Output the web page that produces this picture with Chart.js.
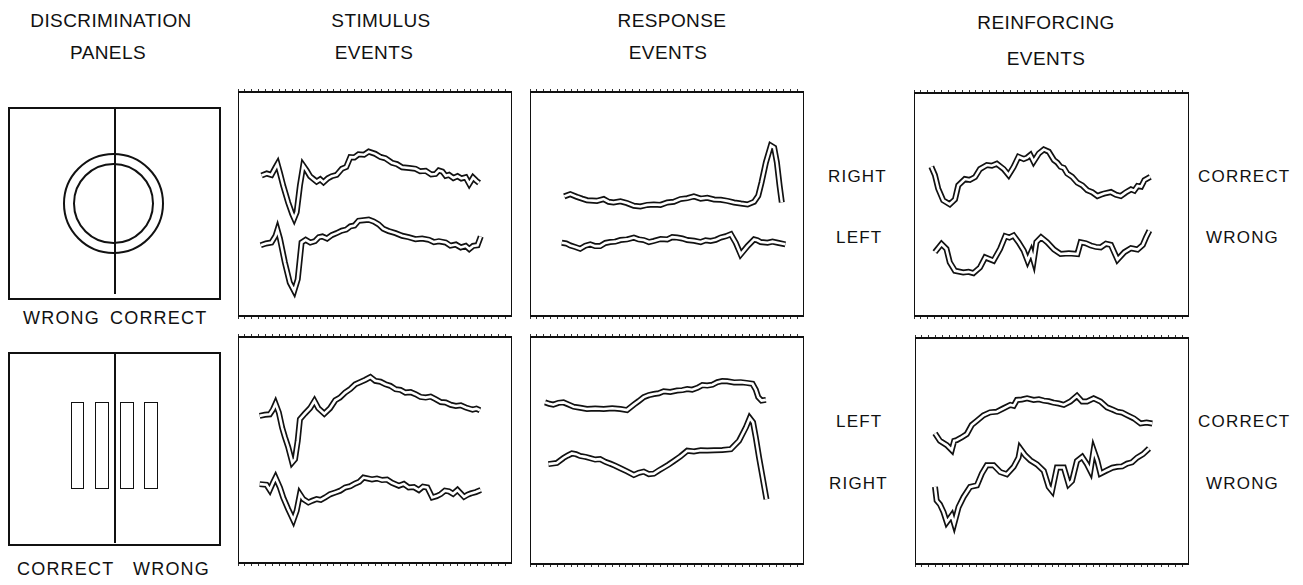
<!DOCTYPE html>
<html>
<head>
<meta charset="utf-8">
<script src="https://cdn.jsdelivr.net/npm/chart.js@4.4.0/dist/chart.umd.min.js"></script>
<style>
  body { margin: 0; width: 1303px; height: 585px; background: #fff; position: relative; overflow: hidden;
         font-family: "Liberation Sans", Arial, sans-serif; color: #111; }
  .hd { position: absolute; font-size: 19px; letter-spacing: 0.4px; white-space: nowrap; transform: translate(-50%, -50%); }
  .lb { position: absolute; font-size: 17px; letter-spacing: 1.2px; white-space: nowrap; transform: translateY(-50%); }
  .pl { position: absolute; font-size: 18px; letter-spacing: 1.2px; white-space: nowrap; transform: translateY(-50%); }
  .box { position: absolute; }
  .panel { position: absolute; border: 2px solid #111; box-sizing: border-box; }
  .ring { position: absolute; border: 2px solid #111; border-radius: 50%; box-sizing: border-box; }
  .bar { position: absolute; border: 1.5px solid #111; box-sizing: border-box; }
  .vline { position: absolute; width: 1.5px; background: #111; }
</style>
</head>
<body>

<!-- headings -->
<div class="hd" style="left:111px;top:21px">DISCRIMINATION</div>
<div class="hd" style="left:108px;top:53px">PANELS</div>
<div class="hd" style="left:381px;top:21px">STIMULUS</div>
<div class="hd" style="left:374px;top:53px">EVENTS</div>
<div class="hd" style="left:672px;top:21px">RESPONSE</div>
<div class="hd" style="left:668px;top:53px">EVENTS</div>
<div class="hd" style="left:1046px;top:23px">REINFORCING</div>
<div class="hd" style="left:1046px;top:59px">EVENTS</div>

<!-- discrimination panels -->
<div class="panel" style="left:8px;top:107px;width:213px;height:193px"></div>
<div class="ring" style="left:63px;top:153px;width:101px;height:101px"></div>
<div class="ring" style="left:73px;top:163px;width:81px;height:81px"></div>
<div class="vline" style="left:114px;top:108px;height:186px"></div>
<div class="pl" style="left:23px;top:318px">WRONG</div>
<div class="pl" style="left:110px;top:318px">CORRECT</div>

<div class="panel" style="left:8px;top:352px;width:213px;height:194px"></div>
<div class="bar" style="left:71px;top:402px;width:13px;height:87px"></div>
<div class="bar" style="left:95px;top:402px;width:14px;height:87px"></div>
<div class="bar" style="left:120px;top:402px;width:14px;height:87px"></div>
<div class="bar" style="left:144px;top:402px;width:14px;height:87px"></div>
<div class="vline" style="left:114px;top:353px;height:190px"></div>
<div class="pl" style="left:17px;top:569px">CORRECT</div>
<div class="pl" style="left:133px;top:569px">WRONG</div>

<!-- side labels -->
<div class="lb" style="left:828px;top:177px">RIGHT</div>
<div class="lb" style="left:836px;top:238px">LEFT</div>
<div class="lb" style="left:1198px;top:177px">CORRECT</div>
<div class="lb" style="left:1206px;top:238px">WRONG</div>
<div class="lb" style="left:836px;top:422px">LEFT</div>
<div class="lb" style="left:829px;top:484px">RIGHT</div>
<div class="lb" style="left:1198px;top:422px">CORRECT</div>
<div class="lb" style="left:1206px;top:484px">WRONG</div>

<div class="box" id="stimTop"><canvas></canvas></div>
<div class="box" id="stimBot"><canvas></canvas></div>
<div class="box" id="respTop"><canvas></canvas></div>
<div class="box" id="respBot"><canvas></canvas></div>
<div class="box" id="reinTop"><canvas></canvas></div>
<div class="box" id="reinBot"><canvas></canvas></div>

<script>
// averaged evoked potentials, [sweep %, amplitude %]
const stimTopUpper = [[8.6,62.7],[10.5,63.6],[12.2,63.0],[13.7,66.4],[14.4,67.9],[15.3,63.9],[16.5,58.2],[18.3,50.7],[19.8,45.5],[20.5,43.6],[21.4,46.3],[22.6,58.2],[23.8,67.2],[25.1,64.9],[26.3,62.4],[27.5,61.2],[28.7,60.0],[30.0,61.0],[31.2,59.7],[32.8,61.5],[34.2,62.4],[36.0,63.0],[37.9,65.7],[39.5,66.5],[41.0,70.9],[42.5,70.8],[44.0,72.2],[46.0,72.0],[47.7,73.4],[50.1,72.4],[52.0,71.0],[53.8,70.4],[56.2,68.4],[58.0,67.8],[59.9,66.4],[62.5,66.1],[64.8,65.7],[66.5,64.6],[68.5,64.8],[70.5,63.2],[72.1,63.4],[73.3,65.0],[74.6,64.5],[75.8,62.6],[77.0,63.0],[78.6,61.6],[80.1,62.4],[81.5,61.4],[83.1,61.9],[84.4,59.0],[85.8,61.8],[87.0,60.4],[88.0,59.4]];
const stimTopLower = [[8.3,31.6],[10.2,32.4],[12.2,32.8],[13.7,35.8],[14.4,38.5],[15.3,34.6],[17.1,23.9],[18.9,14.9],[20.5,11.2],[21.8,16.4],[23.2,32.8],[24.7,34.0],[26.4,32.8],[28.1,33.4],[29.5,35.2],[30.8,35.5],[32.5,34.6],[34.2,36.1],[36.0,37.0],[37.9,38.1],[39.5,38.6],[41.0,40.0],[42.5,40.4],[44.0,42.5],[47.7,43.0],[49.5,42.2],[51.3,40.9],[53.0,39.0],[55.0,37.9],[57.5,37.0],[59.9,35.8],[62.3,35.2],[64.8,34.3],[67.2,34.6],[69.7,34.0],[71.5,33.0],[73.3,33.4],[75.8,32.8],[77.5,31.4],[79.5,31.9],[81.3,30.6],[83.1,31.3],[84.4,29.9],[85.8,31.3],[87.4,31.6],[88.6,35.5]];

const stimBotUpper = [[7.9,65.1],[9.8,65.6],[11.6,65.8],[12.8,68.0],[13.7,70.5],[14.9,66.6],[16.1,59.9],[17.1,55.8],[18.3,51.4],[19.8,44.5],[20.8,45.9],[21.8,54.1],[22.6,63.6],[24.4,66.1],[26.3,68.5],[27.9,71.7],[29.3,68.5],[31.5,66.1],[33.6,68.5],[35.5,72.0],[37.2,73.2],[39.1,75.4],[41.0,77.0],[42.8,79.1],[44.5,80.0],[46.5,81.1],[48.3,82.3],[50.1,80.6],[52.0,80.2],[53.8,79.1],[55.6,78.4],[57.5,76.9],[59.3,76.6],[61.1,75.4],[63.0,75.6],[64.8,74.7],[66.6,73.5],[68.5,73.2],[70.3,73.6],[72.1,72.5],[74.0,71.2],[75.8,71.0],[77.6,70.0],[79.5,69.5],[81.3,69.8],[83.1,68.8],[85.6,67.9],[87.0,68.3],[88.3,67.6]];
const stimBotLower = [[7.9,34.9],[10.4,34.6],[11.6,32.3],[12.8,35.6],[13.7,37.8],[15.3,33.4],[16.5,29.0],[18.3,23.9],[20.2,19.0],[21.4,23.1],[22.6,30.5],[23.8,28.3],[25.7,26.8],[27.2,27.6],[28.7,28.3],[30.2,27.9],[31.8,29.0],[33.6,30.4],[35.5,31.2],[37.3,32.0],[39.1,33.4],[41.0,34.0],[42.8,35.2],[44.3,36.0],[45.8,37.8],[48.9,37.0],[50.7,37.4],[52.6,36.7],[54.4,36.9],[56.2,35.5],[58.7,34.2],[60.5,35.0],[62.3,33.4],[64.2,33.6],[66.0,32.3],[67.5,33.8],[69.1,33.4],[70.9,29.0],[72.5,29.6],[74.0,30.5],[75.5,32.0],[77.0,31.7],[78.5,30.6],[80.1,32.3],[82.5,29.3],[83.8,30.2],[85.0,30.8],[86.8,31.4],[88.6,32.3]];

const respTopRight = [[12.5,53.4],[14.7,54.4],[17.1,53.2],[19.0,52.4],[20.8,51.7],[24.4,51.4],[26.9,52.2],[28.7,51.0],[30.5,50.7],[33.0,51.2],[35.4,50.4],[37.9,49.2],[40.3,48.9],[42.8,49.6],[45.2,49.8],[47.6,49.6],[50.1,50.7],[52.5,51.0],[54.9,52.2],[57.4,52.6],[59.8,53.4],[62.3,52.4],[64.7,52.8],[67.2,52.0],[69.6,51.9],[72.0,51.4],[74.5,50.7],[77.0,50.2],[79.4,49.8],[81.8,51.0],[83.3,53.7],[84.5,59.6],[86.1,68.6],[87.9,76.1],[89.1,75.2],[90.1,68.6],[91.1,58.1],[91.9,50.7]];
const respTopLeft = [[11.6,32.7],[13.2,32.4],[14.7,31.5],[16.5,30.8],[18.3,30.0],[20.2,31.4],[22.0,32.0],[23.8,31.2],[25.6,31.2],[27.5,32.6],[29.3,33.0],[31.1,33.2],[33.0,33.9],[35.4,34.2],[37.9,35.0],[39.7,34.2],[41.5,33.9],[43.4,33.0],[45.2,33.5],[47.7,34.4],[50.1,34.2],[51.9,35.2],[53.7,35.0],[55.6,34.6],[57.4,33.9],[59.9,33.6],[62.3,33.0],[64.1,33.8],[65.9,33.5],[67.8,34.0],[69.6,35.0],[71.5,35.6],[73.3,36.5],[75.1,32.7],[76.9,27.5],[79.4,31.2],[81.8,34.2],[83.0,33.8],[84.2,33.0],[86.7,32.7],[88.5,33.2],[90.4,32.7],[93.2,32.0]];

const respBotLeft = [[5.5,71.2],[7.0,70.6],[8.5,70.2],[10.4,71.0],[12.2,71.2],[14.0,70.3],[15.9,69.3],[18.3,68.8],[20.8,68.3],[23.8,68.5],[26.9,68.3],[30.0,68.6],[33.0,68.3],[35.4,67.8],[37.9,70.2],[39.7,71.8],[41.5,73.5],[43.4,74.4],[45.2,74.9],[47.0,75.2],[48.8,76.1],[51.2,75.8],[53.7,76.4],[55.6,76.6],[57.4,77.1],[59.2,76.8],[61.1,77.6],[62.9,78.8],[64.7,78.6],[66.6,79.0],[68.4,80.1],[70.2,80.6],[72.0,80.5],[74.5,80.0],[76.9,80.1],[79.0,79.8],[81.2,79.4],[82.4,76.8],[83.3,73.5],[84.5,72.0],[86.1,72.3]];
const respBotRight = [[6.7,44.0],[9.8,44.5],[12.2,46.7],[13.8,47.8],[15.3,48.7],[16.8,48.4],[18.3,47.6],[20.2,47.2],[22.0,46.6],[23.8,46.0],[25.6,46.2],[27.5,45.0],[29.3,44.2],[31.1,43.3],[33.0,42.2],[35.4,40.8],[37.9,39.2],[39.7,40.2],[41.5,40.7],[43.4,39.6],[45.2,39.8],[47.0,41.2],[48.8,42.5],[50.6,43.8],[52.5,45.4],[54.9,47.4],[57.4,49.9],[59.8,49.6],[62.3,50.1],[64.7,50.0],[67.2,50.1],[70.2,50.2],[73.3,50.6],[76.3,54.3],[78.8,60.2],[80.2,64.3],[81.4,62.4],[82.4,55.8],[83.6,46.9],[84.9,38.1],[86.3,28.5]];

const reinTopCorrect = [[6.3,66.9],[7.6,63.2],[8.8,57.1],[10.6,51.9],[13.0,50.1],[14.9,52.3],[16.1,58.6],[18.5,61.4],[20.3,61.0],[22.2,62.3],[24.0,65.9],[26.5,67.7],[28.3,67.4],[30.1,68.3],[32.6,65.9],[34.4,63.2],[36.2,66.8],[38.0,71.4],[39.9,70.4],[41.1,71.0],[42.3,72.2],[43.5,69.2],[45.4,72.9],[47.2,74.7],[49.0,73.7],[50.9,69.9],[52.1,68.8],[53.3,66.9],[54.5,66.4],[55.7,63.9],[57.5,62.4],[59.4,59.8],[61.2,58.6],[63.0,56.4],[64.8,55.5],[66.7,53.8],[67.9,54.4],[69.1,54.9],[71.6,55.6],[73.4,54.4],[75.2,53.8],[77.0,55.4],[78.9,56.8],[80.1,56.2],[81.3,58.3],[82.6,58.0],[83.8,60.9],[85.9,62.4]];
const reinTopWrong = [[7.6,28.6],[10.0,32.3],[11.8,30.1],[13.0,24.1],[14.9,20.3],[17.9,19.5],[19.8,19.8],[21.6,19.2],[24.0,21.8],[25.9,26.3],[28.9,24.8],[31.3,30.1],[33.2,35.8],[34.7,35.2],[36.2,36.1],[38.0,33.1],[39.9,29.3],[41.3,24.8],[42.6,28.6],[43.5,24.8],[44.5,33.1],[46.2,35.3],[48.4,33.1],[50.9,29.8],[53.3,27.8],[56.3,28.1],[59.4,27.8],[60.6,33.1],[62.5,32.6],[64.3,31.6],[66.1,31.0],[67.9,30.8],[69.8,32.4],[71.6,31.9],[74.0,25.3],[76.5,28.6],[78.9,30.4],[81.3,29.8],[83.2,31.9],[84.4,35.3],[85.6,38.3]];

const reinBotCorrect = [[7.3,57.8],[9.1,54.5],[11.6,52.6],[13.4,50.4],[14.3,54.5],[15.2,54.8],[17.0,56.0],[18.9,57.5],[20.7,61.5],[22.6,63.4],[25.0,65.8],[27.4,67.1],[29.9,67.4],[32.3,68.9],[34.8,70.4],[36.0,70.0],[37.2,72.6],[39.0,72.8],[40.9,73.3],[43.3,72.6],[45.2,72.9],[47.0,72.3],[48.8,72.0],[50.6,71.4],[52.5,71.0],[54.3,70.4],[56.7,71.9],[59.1,74.4],[61.0,71.9],[62.8,71.9],[65.2,73.3],[67.7,71.9],[70.1,69.3],[72.0,68.4],[73.8,67.4],[75.6,67.0],[77.4,65.9],[79.9,64.4],[82.3,62.2],[84.5,62.6],[86.6,62.2]];
const reinBotWrong = [[7.3,34.1],[7.9,28.1],[9.1,26.4],[10.4,23.0],[11.6,18.5],[13.4,21.5],[14.3,17.8],[15.9,25.2],[17.7,29.6],[20.1,34.1],[22.6,34.8],[24.4,40.0],[26.2,43.7],[28.7,43.7],[31.1,40.7],[33.5,39.7],[36.0,43.0],[37.8,47.1],[38.4,51.1],[40.2,48.1],[42.1,45.9],[44.5,44.1],[47.0,41.2],[48.8,34.1],[50.0,32.3],[51.8,42.7],[54.3,42.7],[56.1,35.3],[57.3,36.7],[59.1,45.6],[61.0,47.4],[62.8,44.1],[64.0,41.2],[65.2,50.4],[66.5,45.9],[67.7,40.0],[70.1,41.5],[72.0,42.6],[73.8,43.0],[75.6,43.2],[77.4,44.4],[79.2,45.0],[81.1,47.1],[83.2,48.6],[85.4,51.1]];

// frame positions: left, top, width, height
const boxes = {
  stimTop: [238, 92, 274, 224, [stimTopUpper, stimTopLower]],
  stimBot: [238, 337, 274, 226, [stimBotUpper, stimBotLower]],
  respTop: [530, 92, 274, 224, [respTopRight, respTopLeft]],
  respBot: [530, 337, 274, 227, [respBotLeft, respBotRight]],
  reinTop: [914, 93, 275, 223, [reinTopCorrect, reinTopWrong]],
  reinBot: [915, 338, 274, 226, [reinBotCorrect, reinBotWrong]],
};

const TICK = 3;

function makeBox(id) {
  const [left, top, w, h, traces] = boxes[id];
  const el = document.getElementById(id);
  el.style.left = left + 'px';
  el.style.top = (top - TICK) + 'px';
  el.style.width = w + 'px';
  el.style.height = (h + 2 * TICK) + 'px';

  const datasets = [];
  traces.forEach((tr) => {
    const pts = tr.map((p) => ({ x: p[0], y: p[1] }));
    datasets.push({ data: pts, borderColor: '#fff', borderWidth: 2.6, pointRadius: 0, tension: 0, order: 0 });
    datasets.push({ data: pts, borderColor: '#111', borderWidth: 6, pointRadius: 0, tension: 0, order: 1 });
  });

  const edge = (pos, ticks) => ({
    type: 'linear', position: pos, min: 0, max: 100,
    ticks: { display: false, stepSize: 2.5, autoSkip: false },
    grid: ticks
      ? { display: true, drawOnChartArea: false, drawTicks: true, tickLength: TICK, color: '#333', lineWidth: 1 }
      : { display: false, drawTicks: false, tickLength: 0 },
    border: { display: true, color: '#111', width: 2 },
  });

  new Chart(el.querySelector('canvas'), {
    type: 'line',
    data: { datasets },
    options: {
      responsive: true,
      maintainAspectRatio: false,
      animation: false,
      events: [],
      layout: { padding: 0 },
      plugins: { legend: { display: false }, tooltip: { enabled: false } },
      scales: {
        x: edge('bottom', true),
        xTop: edge('top', true),
        y: edge('left', false),
        yRight: edge('right', false),
      },
    },
  });
}

Object.keys(boxes).forEach(makeBox);
</script>
</body>
</html>
